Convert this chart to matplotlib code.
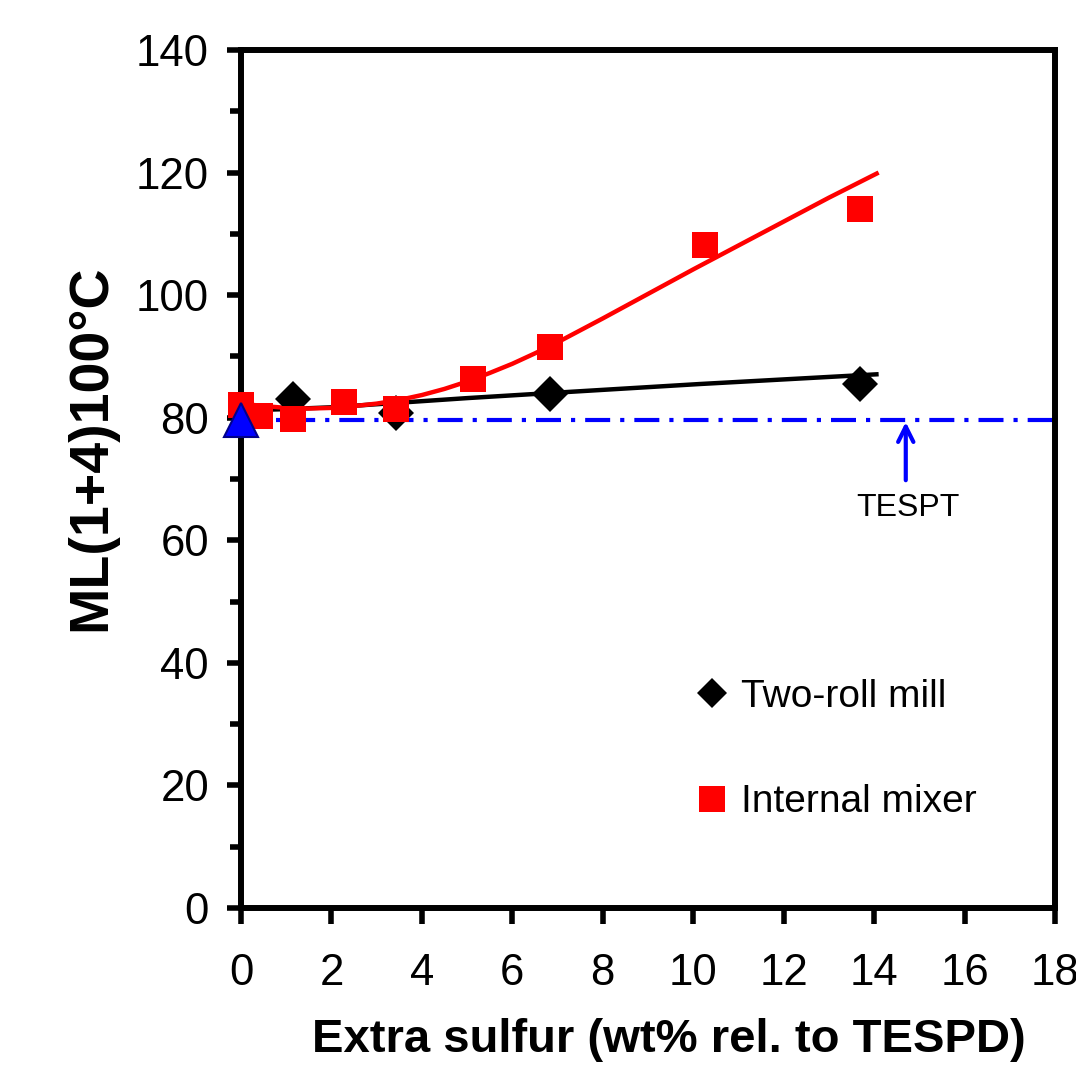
import matplotlib
matplotlib.use('Agg')
import matplotlib.pyplot as plt
from matplotlib.lines import Line2D
from matplotlib.ticker import MultipleLocator

plt.rcParams['font.family'] = ['Liberation Sans', 'DejaVu Sans']

# ---- data ----
mill_x = [1.14, 3.42, 6.84, 13.68]
mill_y = [83.0, 80.7, 83.8, 85.5]
mixer_x = [0.0, 0.43, 1.14, 2.28, 3.42, 5.13, 6.84, 10.26, 13.68]
mixer_y = [82.0, 80.3, 79.8, 82.5, 81.5, 86.3, 91.5, 108.2, 114.0]

# trend lines
mill_fit_x = [0, 1, 2, 3, 4, 5, 7, 10.15, 14.1]
mill_fit_y = [81.2, 81.4, 81.7, 82.2, 82.7, 83.2, 84.1, 85.5, 87.1]
mixer_fit_x = [0, 0.5, 1, 1.5, 2, 2.5, 3, 3.5, 4, 4.5, 5, 5.5, 6, 6.5, 7, 8, 9, 10, 11, 12, 13, 14.1]
mixer_fit_y = [82.3, 81.9, 81.6, 81.5, 81.6, 81.9, 82.3, 82.9, 83.7, 84.7, 85.9, 87.3, 88.8,
               90.5, 92.3, 96.2, 100.2, 104.2, 108.1, 112.0, 115.9, 120.0]

tespt_x = [0.0]
tespt_y = [79.6]
arrow_x = 14.7

xticks = [0, 2, 4, 6, 8, 10, 12, 14, 16, 18]
yticks = [0, 20, 40, 60, 80, 100, 120, 140]

fig = plt.figure(figsize=(10.76, 10.73), dpi=100)
ax = fig.add_axes([241/1076, 165/1073, (1055-241)/1076, (908-50)/1073])

ax.set_xlim(0, 18)
ax.set_ylim(0, 140)

# reference line
ax.axhline(tespt_y[0], color='#0000ff', lw=3, linestyle=(0, (6, 2.4, 1, 2.4)), zorder=2)

ax.plot(mill_fit_x, mill_fit_y, color='black', lw=3.2, zorder=3, solid_capstyle='butt')
ax.plot(mixer_fit_x, mixer_fit_y, color='#ff0000', lw=3.2, zorder=3, solid_capstyle='butt')

ax.plot(mill_x, mill_y, linestyle='none', marker='D', ms=18.4, color='black',
        mec='black', mew=0, zorder=4, clip_on=False)
ax.plot(mixer_x, mixer_y, linestyle='none', marker='s', ms=18.7, color='#ff0000',
        mec='#ff0000', mew=0, zorder=5, clip_on=False)
ax.plot(tespt_x, tespt_y, linestyle='none', marker='^', ms=25, color='#0000ff',
        mec='#00008b', mew=1.5, zorder=6, clip_on=False)

ax.annotate('', xy=(arrow_x, tespt_y[0] - 0.3), xytext=(arrow_x, 69.8),
            arrowprops=dict(arrowstyle='->,head_length=1.1,head_width=0.55',
                            color='#0000ff', lw=3, shrinkA=0, shrinkB=0), zorder=6)
ax.text(arrow_x + 0.05, 65.3, 'TESPT', fontsize=23, ha='center', va='center')

ax.set_xticks(xticks)
ax.set_yticks(yticks)
ax.yaxis.set_minor_locator(MultipleLocator(10))
ax.tick_params(axis='both', which='major', direction='out', width=4, labelsize=31.5)
ax.tick_params(axis='y', which='major', length=10, pad=13)
ax.tick_params(axis='y', which='minor', length=8, width=4, direction='out')
ax.tick_params(axis='x', which='major', length=11.5, pad=21)
ax.tick_params(axis='x', which='minor', length=0)
for s in ax.spines.values():
    s.set_linewidth(4.3)

fig.text(669/1076, 1 - 1040/1073, 'Extra sulfur (wt% rel. to TESPD)', fontsize=34,
         fontweight='bold', ha='center', va='center')
fig.text(91/1076, 1 - 448/1073, 'ML(1+4)100\u00b0C', fontsize=40, fontweight='bold',
         ha='center', va='center', rotation=90)

handles = [Line2D([], [], linestyle='none', marker='D', ms=14.8, color='black', mew=0),
           Line2D([], [], linestyle='none', marker='s', ms=18.7, color='#ff0000', mew=0)]
leg = ax.legend(handles, ['Two-roll mill', 'Internal mixer'], loc='upper left',
                bbox_to_anchor=((696 - 241)/(1055 - 241), (908 - 679)/(908 - 50)),
                frameon=False, fontsize=28, handlelength=0.8, handletextpad=0.35,
                labelspacing=1.78, borderpad=0, borderaxespad=0)

fig.savefig('out.png', dpi=100)
